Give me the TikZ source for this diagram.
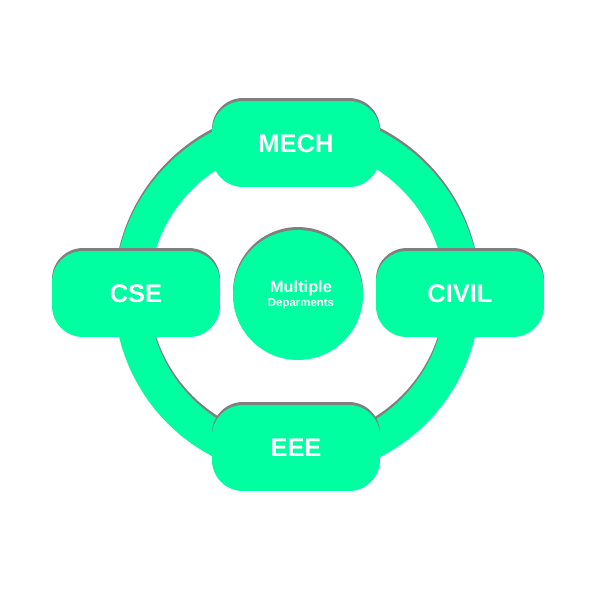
\documentclass[tikz,border=0pt]{standalone}
\usepackage{fontspec}
\setmainfont{Liberation Sans}
\usetikzlibrary{shadows}
\definecolor{springgreen}{rgb}{0.00,1.00,0.63}
\definecolor{shadegray}{rgb}{0.50,0.50,0.50}
\tikzset{
  dept/.style={
    rectangle, rounded corners=0.62cm,
    minimum width=3.36cm, minimum height=1.72cm,
    fill=springgreen, text=white,
    font=\fontsize{14.5}{16}\selectfont\bfseries,
    general shadow={fill=shadegray, shadow yshift=1.7pt}
  },
  hub/.style={
    circle, minimum size=2.6cm, inner sep=0pt,
    fill=springgreen, text=white, align=center,
    general shadow={fill=shadegray, shadow yshift=1.7pt}
  }
}

\begin{document}
\begin{tikzpicture}[x=0.02cm, y=-0.02cm]
        \useasboundingbox (0,0) rectangle (600,600);

        % ring with its shadow
        \draw[shadegray, line width=0.7cm] (297,291) circle (3.31cm);
        \draw[springgreen, line width=0.7cm] (297,294) circle (3.31cm);

        % hub
        \node[hub] (hub) at (298,295) {};
        \node[text=white, align=center] (hublabel) at (301,295)
          {{\fontsize{9.3}{10}\selectfont\bfseries Multiple}\\[-4pt]
           {\fontsize{6.5}{7}\selectfont\bfseries Deparments}};

        % departments
        \node[dept] (mech)  at (296,144) {MECH};
        \node[dept] (cse)   at (136,294) {CSE};
        \node[dept] (civil) at (460,294) {CIVIL};
        \node[dept] (eee)   at (296,448) {EEE};
      \end{tikzpicture}
\end{document}
